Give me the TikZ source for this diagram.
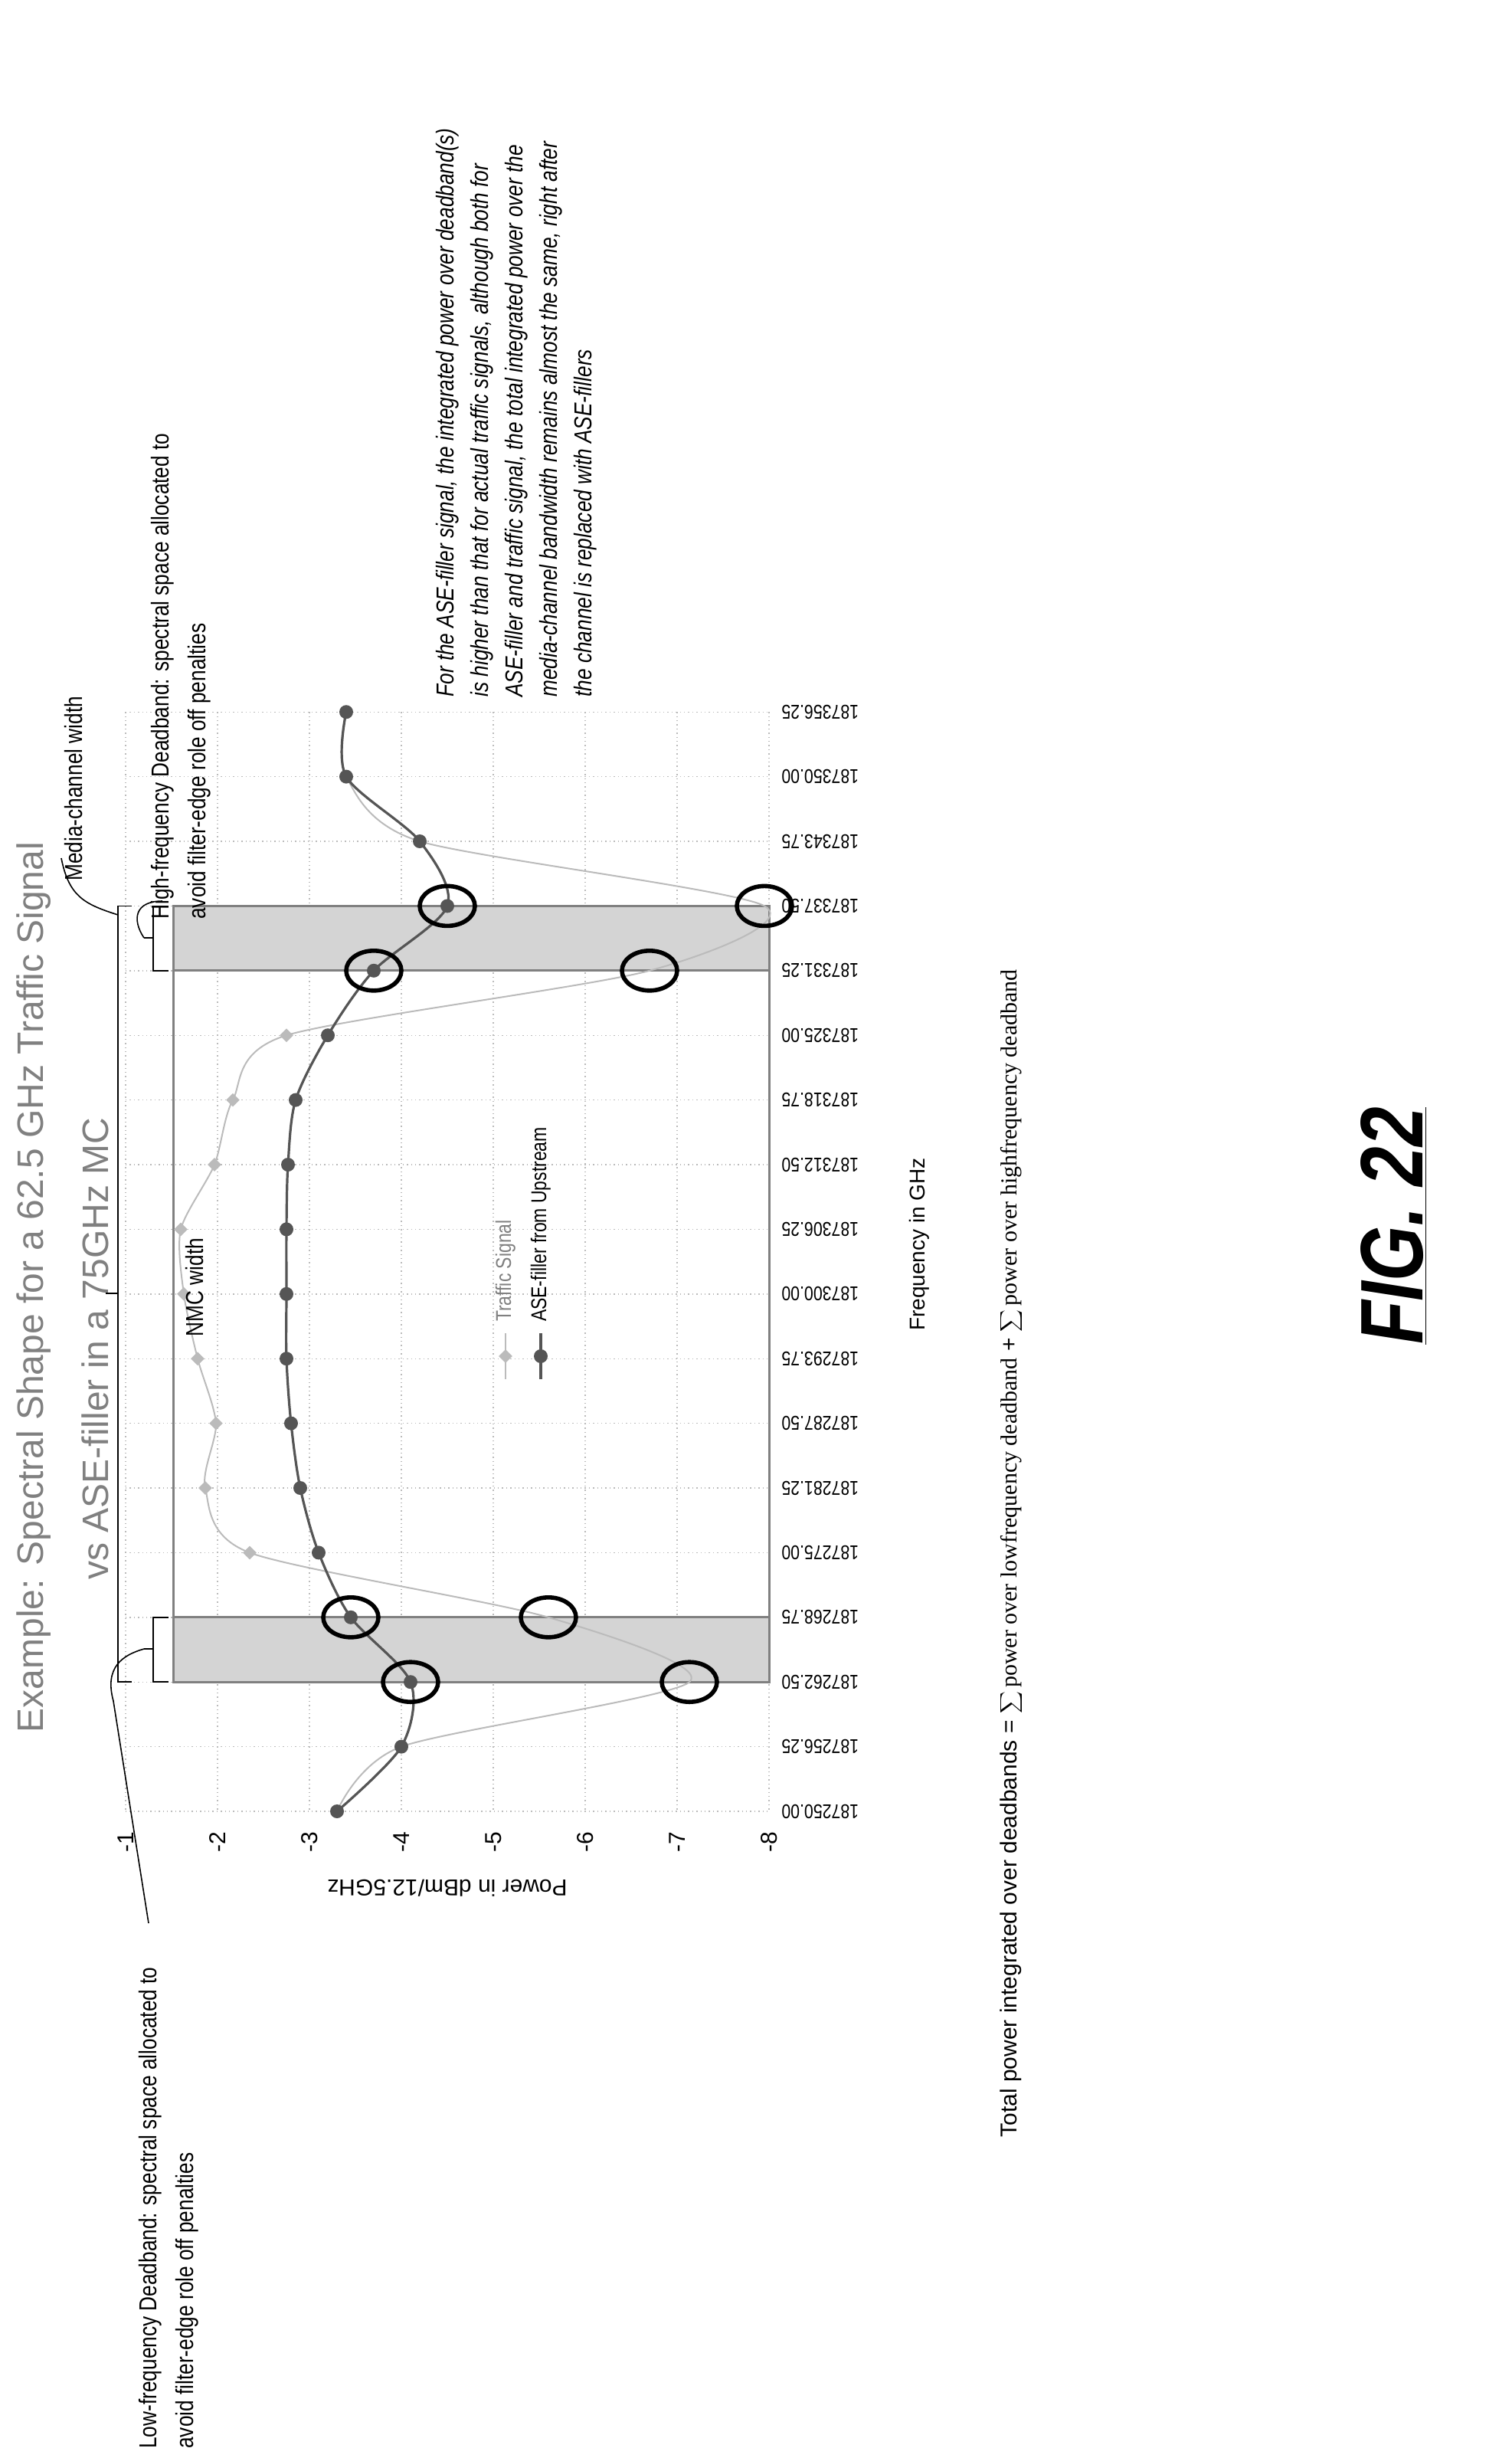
\documentclass[tikz,border=0pt]{standalone}
\usepackage{fontspec}
\setmainfont{Liberation Sans}
\newfontfamily\narrowf[FakeStretch=0.82]{Liberation Sans}
\newfontfamily\seriff{Liberation Serif}
\newfontfamily\figf[FakeStretch=0.8]{Liberation Sans}
\definecolor{asecol}{HTML}{555555}
\definecolor{trcol}{HTML}{BBBBBB}
\definecolor{gridcol}{HTML}{BBBBBB}
\definecolor{bandcol}{HTML}{D4D4D4}
\tikzset{
  lbl/.style={font=\narrowf\fontsize{16}{24}\selectfont, rotate=90, anchor=west, inner sep=0pt, align=left},
  tick/.style={font=\narrowf\fontsize{13}{15}\selectfont, inner sep=0pt},
  ring/.style={draw=black, line width=2.8pt, ellipse, minimum width=36pt, minimum height=26pt, inner sep=0pt},
  asedot/.style={circle, fill=asecol, inner sep=0pt, minimum size=9pt},
  trdot/.style={diamond, fill=trcol, inner sep=0pt, minimum size=9pt},
  brk/.style={draw=black, line width=0.9pt},
}
\usetikzlibrary{shapes.geometric}
\begin{document}
\begin{tikzpicture}[x=1pt,y=-1pt]
\useasboundingbox (0,0) rectangle (987,1604);
% title
\node[rotate=90, font=\fontsize{24}{28}\selectfont, text=gray] (t1) at (22,840) {Example:  Spectral Shape for a 62.5 GHz Traffic Signal};
\node[rotate=90, font=\fontsize{24}{28}\selectfont, text=gray] (t2) at (62,880) {vs ASE-filler in a 75GHz MC};
% grid
\foreach \k in {0,...,7} \draw[gridcol, dotted, line width=0.7pt] ({82+60*\k},464.6) -- ({82+60*\k},1182);
\foreach \i in {0,...,17} \draw[gridcol, dotted, line width=0.7pt] (82,{1182-42.2*\i}) -- (502,{1182-42.2*\i});
% bands
\fill[bandcol] (113,1055.4) rectangle (502,1097.6);
\fill[bandcol] (113,591.2) rectangle (502,633.4);
\draw[gray, line width=1.5pt] (113,591.2) rectangle (502,1097.6);
\draw[gray, line width=1.5pt] (113,633.4) rectangle (502,1055.4);
% tick labels
\foreach \i/\l in {0/187250.00,1/187256.25,2/187262.50,3/187268.75,4/187275.00,5/187281.25,6/187287.50,7/187293.75,8/187300.00,9/187306.25,10/187312.50,11/187318.75,12/187325.00,13/187331.25,14/187337.50,15/187343.75,16/187350.00,17/187356.25}
  \node[tick, rotate=180, anchor=east] (f\i) at (510,{1182-42.2*\i}) {\l};
\foreach \k in {1,...,8} \node[tick, rotate=90, font=\fontsize{15}{17}\selectfont] (v\k) at ({82+60*(\k-1)},1202) {-\k};
\node[rotate=180, font=\fontsize{15}{18}\selectfont] (ptitle) at (292,1232) {Power in dBm/12.5GHz};
\node[rotate=90, font=\fontsize{14}{17}\selectfont] (ftitle) at (600,812) {Frequency in GHz};
% curves
\draw[trcol, line width=1pt] plot[smooth, tension=0.45] coordinates {(220,1182) (262,1139.8) (450,1097.6) (358,1055.4) (163,1013.2) (134,971) (141,928.8) (129,886.6) (120,844.4) (118,802.2) (140,760) (152,717.8) (187,675.6) (424,633.4) (499,591.2) (274,549) (226,506.8) (226,464.6)};
\foreach \x/\y in {163/1013.2,134/971,141/928.8,129/886.6,120/844.4,118/802.2,140/760,152/717.8,187/675.6} \node[trdot] at (\x,\y) {};
\draw[asecol, line width=1.6pt] plot[smooth, tension=0.5] coordinates {(220,1182) (262,1139.8) (268,1097.6) (229,1055.4) (208,1013.2) (196,971) (190,928.8) (187,886.6) (187,844.4) (187,802.2) (188,760) (193,717.8) (214,675.6) (244,633.4) (292,591.2) (274,549) (226,506.8) (226,464.6)};
\foreach \x/\y in {220/1182,262/1139.8,268/1097.6,229/1055.4,208/1013.2,196/971,190/928.8,187/886.6,187/844.4,187/802.2,188/760,193/717.8,214/675.6,244/633.4,292/591.2,274/549,226/506.8,226/464.6} \node[asedot] at (\x,\y) {};
% rings
\node[ring] (r1) at (268,1097.6) {};
\node[ring] (r2) at (229,1055.4) {};
\node[ring] (r3) at (244,633.4) {};
\node[ring] (r4) at (292,591.2) {};
\node[ring] (r5) at (450,1097.6) {};
\node[ring] (r6) at (358,1055.4) {};
\node[ring] (r7) at (424,633.4) {};
\node[ring] (r8) at (499,591.2) {};
% legend
\draw[trcol, line width=1pt] (330,900) -- (330,870);
\node[trdot] (lg1) at (330,885) {};
\node[rotate=90, anchor=west, font=\narrowf\fontsize{14}{16}\selectfont, text=gray] (lt1) at (330,866) {Traffic Signal};
\draw[asecol, line width=1.6pt] (353,900) -- (353,870);
\node[asedot] (lg2) at (353,885) {};
\node[rotate=90, anchor=west, font=\narrowf\fontsize{14}{16}\selectfont] (lt2) at (353,866) {ASE-filler from Upstream};
\node[rotate=90, font=\narrowf\fontsize{16}{18}\selectfont] (nmc) at (127,840) {NMC width};
% brackets
\draw[brk] (86,591.2) -- (77,591.2) -- (77,1097.6) -- (86,1097.6);
\draw[brk] (77,844) -- (69,844);
\draw[brk] (110,591.2) -- (100,591.2) -- (100,633.4) -- (110,633.4);
\draw[brk] (100,612) -- (94,612);
\draw[brk] (110,1055.4) -- (100,1055.4) -- (100,1097.6) -- (110,1097.6);
\draw[brk] (100,1076) -- (94,1076);
\coordinate (mcend) at (77,597);
\coordinate (hfend) at (94,612);
\coordinate (lfend) at (94,1076);
% callouts
\node[lbl] (mctext) at (48,575) {Media-channel width};
\node[lbl] (hftext) at (118,600) {High-frequency Deadband: spectral space allocated to\\avoid filter-edge role off penalties};
\node[lbl] (lftext) at (110,1598) {Low-frequency Deadband: spectral space allocated to\\avoid filter-edge role off penalties};
\draw[black, line width=0.8pt] (mcend) .. controls (55,590) and (45,585) .. (40,560);
\draw[black, line width=0.8pt] (hfend) .. controls (86,600) and (88,588) .. (106,588);
\draw[black, line width=0.8pt] (lfend) .. controls (80,1080) and (68,1088) .. (74,1110) -- (97,1255);
% italic paragraph
\node[lbl, font=\narrowf\itshape\fontsize{16}{22.5}\selectfont] (para) at (337,455) {For the ASE-filler signal, the integrated power over deadband(s)\\is higher than that for actual traffic signals, although both for\\ASE-filler and traffic signal, the total integrated power over the\\media-channel bandwidth remains almost the same, right after\\the channel is replaced with ASE-fillers};
% equation
\node[rotate=90, anchor=west, inner sep=0pt] (eq) at (660,1395) {\fontsize{15}{18}\selectfont Total power integrated over deadbands = $\displaystyle\sum$\,{\seriff power over lowfrequency deadband} + $\displaystyle\sum$\,{\seriff power over highfrequency deadband}};
\node[rotate=90, font=\figf\bfseries\itshape\fontsize{58}{64}\selectfont] (fig) at (910,800) {\underline{FIG. 22}};
\end{tikzpicture}
\end{document}
